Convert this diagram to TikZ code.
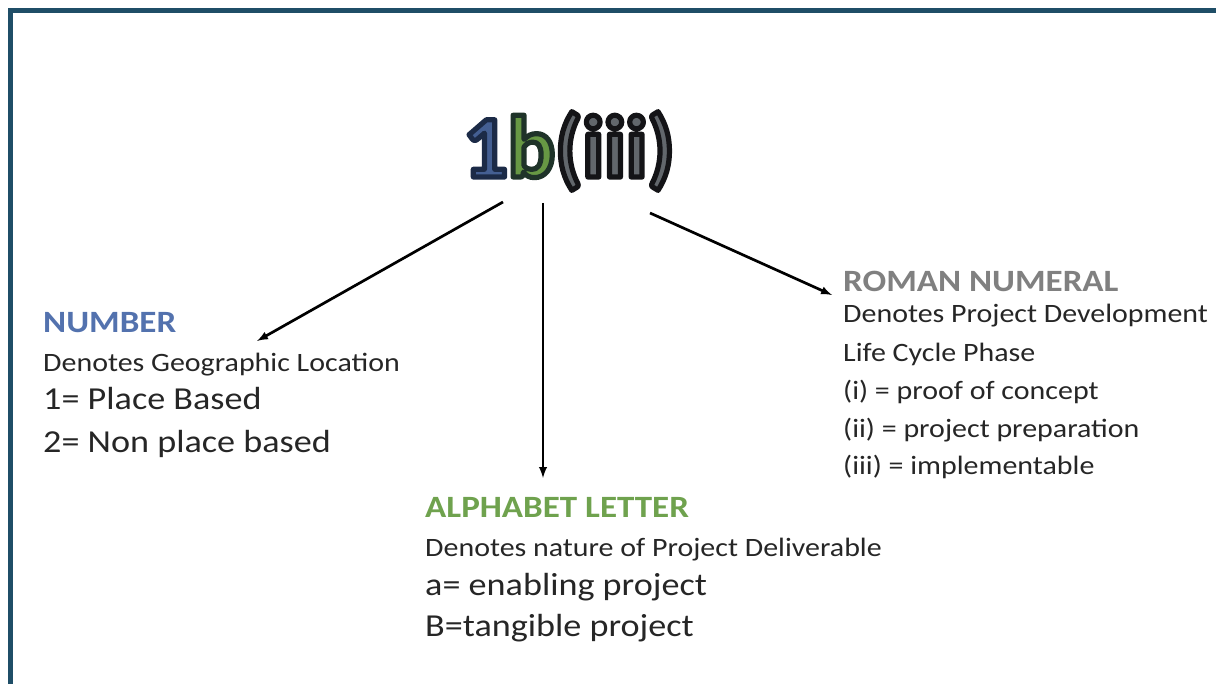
\documentclass[tikz,border=0pt]{standalone}
\usepackage{fontspec}
\setmainfont{Carlito}[FakeStretch=1.13]
\newfontfamily\codefont{Carlito}
\usetikzlibrary{arrows}

\definecolor{frameblue}{HTML}{1F4E67}
\definecolor{bodygray}{HTML}{262626}
\definecolor{numblue}{HTML}{5372AE}
\definecolor{letgreen}{HTML}{6FA24E}
\definecolor{romgray}{HTML}{808080}
\definecolor{onefill}{HTML}{445F92}
\definecolor{bfill}{HTML}{679844}
\definecolor{ifill}{HTML}{62676C}

% one part of the code word: fill colour, outline (r g b), text
\newcommand{\outlined}[3]{{\color{#1}\special{pdf:literal direct #2 RG 5.2 w 1 j 2 Tr}#3}}
\newcommand{\codeword}{\outlined{onefill}{0.11 0.17 0.28}{1}%
  \outlined{bfill}{0.12 0.2 0.16}{b}%
  \outlined{ifill}{0.08 0.08 0.09}{(iii)}\special{pdf:literal direct 0 Tr}}

\begin{document}
\begin{tikzpicture}[x=1pt,y=-1pt,every path/.style={>=latex},
    head/.style={anchor=base west,inner sep=0pt,font=\bfseries\fontsize{31}{31}\selectfont},
    desc/.style={anchor=base west,inner sep=0pt,text=bodygray,font=\fontsize{26.5}{30}\selectfont},
    item/.style={anchor=base west,inner sep=0pt,text=bodygray,font=\fontsize{32}{36}\selectfont},
    code/.style={anchor=base west,inner sep=0pt,font=\codefont\bfseries\fontsize{88}{88}\selectfont}]
  \useasboundingbox (0,0) rectangle (1216,684);
  % frame
  \draw[frameblue,line width=4.7pt] (10.3,684) -- (10.3,10.3) -- (1216,10.3);

  % code word
  \node[code] (word) at (463,177) {\codeword};

  % left block
  \node[head,text=numblue] (number)  at (43,333) {NUMBER};
  \node[desc]              (numdesc) at (43,372) {Denotes Geographic Location};
  \node[item]              (numone)  at (43,410) {1= Place Based};
  \node[item]              (numtwo)  at (43,453) {2= Non place based};

  % middle block
  \node[head,text=letgreen] (letter)  at (425,517) {ALPHABET LETTER};
  \node[desc]               (letdesc) at (425,556) {Denotes nature of Project Deliverable};
  \node[item]               (leta)    at (425,595) {a= enabling project};
  \node[item]               (letb)    at (425,636) {B=tangible project};

  % right block
  \node[head,text=romgray] (roman)   at (843,292) {ROMAN NUMERAL};
  \node[desc]              (romdesc) at (843,323) {Denotes Project Development};
  \node[desc]              (romlife) at (843,362) {Life Cycle Phase};
  \node[desc]              (romi)    at (843,400) {(i) = proof of concept};
  \node[desc]              (romii)   at (843,438) {(ii) = project preparation};
  \node[desc]              (romiii)  at (843,475) {(iii) = implementable};

  \coordinate (numfrom) at (503,202);
  \coordinate (letfrom) at (543,203);
  \coordinate (romfrom) at (650,213);
  \coordinate (numto)   at (257,341);
  \coordinate (letto)   at (543,478);
  \coordinate (romto)   at (832,295);

  \draw[->,line width=2.7pt] (numfrom) -- (numto);
  \draw[->,line width=2.7pt] (letfrom) -- (letto);
  \draw[->,line width=2.7pt] (romfrom) -- (romto);
\end{tikzpicture}
\end{document}
